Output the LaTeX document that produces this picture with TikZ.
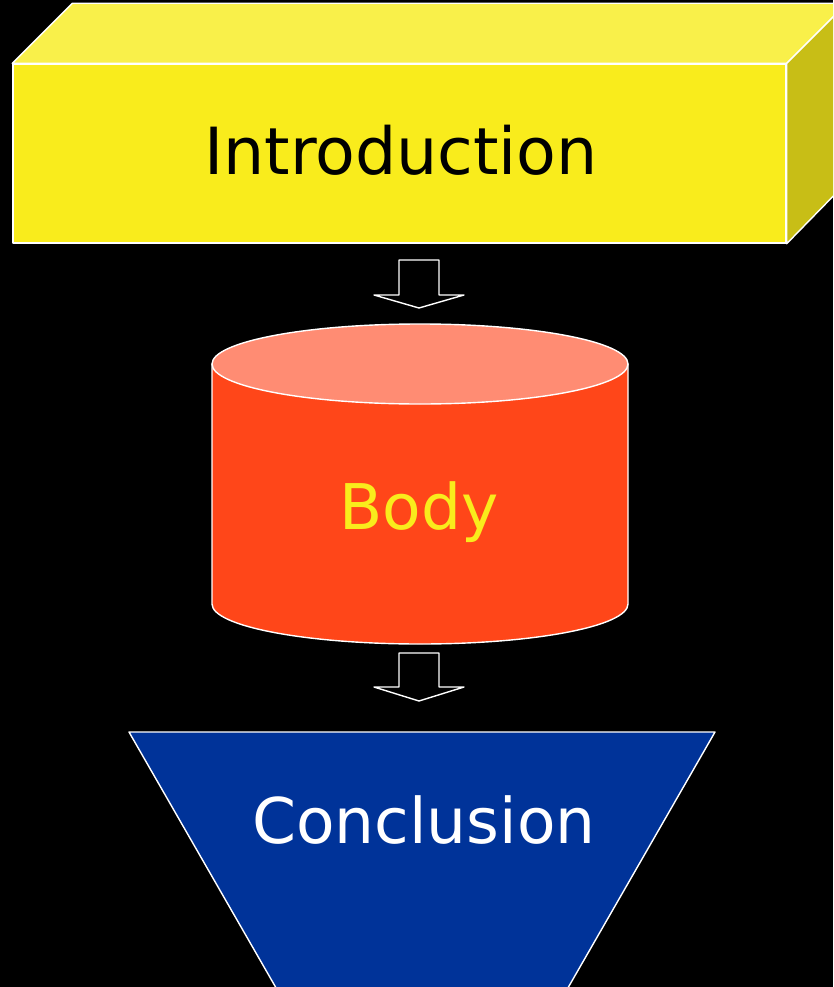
\documentclass[tikz,border=0pt]{standalone}
\usepackage{fontspec}
\setmainfont{DejaVu Sans}
\usetikzlibrary{positioning}

\definecolor{introfront}{RGB}{249,236,28}
\definecolor{introtop}{RGB}{249,240,74}
\definecolor{introside}{RGB}{200,190,22}
\definecolor{bodyside}{RGB}{255,70,25}
\definecolor{bodytop}{RGB}{255,140,115}
\definecolor{conclfill}{RGB}{0,51,153}

\tikzset{
	edge/.style={draw=white, line width=1.4pt, line join=round},
	label/.style={font=\fontsize{63}{75}\selectfont, anchor=base, inner sep=0},
	blockarrow/.style={edge, fill=black},
}

\begin{document}
\begin{tikzpicture}[x=1pt, y=-1pt]
		\clip (0,0) rectangle (833,987);
		\fill[black] (0,0) rectangle (833,987);

		% Introduction
		\begin{scope}
			\node (intro) at (399.5,153.5) [edge, fill=introfront, rectangle, minimum width=773pt, minimum height=179pt, inner sep=0] {};
			\filldraw[edge, fill=introtop] (intro.north west) -- ++(60,-60) -- ([shift={(60,-60)}]intro.north east) -- (intro.north east) -- cycle;
			\filldraw[edge, fill=introside] (intro.north east) -- ++(60,-60) -- ++(0,179) -- (intro.south east) -- cycle;
			\node (intro_title) at (401,175) [label, font=\fontsize{65}{78}\selectfont, text=black] {Introduction};
		\end{scope}

		% Body
		\begin{scope}
			\coordinate (cyl_top) at (420,364);
			\coordinate (cyl_bot) at (420,604);
			\filldraw[edge, fill=bodyside] ([xshift=-208pt]cyl_top) -- ([xshift=-208pt]cyl_bot) arc[start angle=180, end angle=360, x radius=208pt, y radius=40pt] -- ([xshift=208pt]cyl_top) -- cycle;
			\filldraw[edge, fill=bodytop] (cyl_top) ellipse[x radius=208pt, y radius=40pt];
			\node (body_title) at (419,529) [label, text=introfront] {Body};
		\end{scope}

		% Conclusion
		\begin{scope}
			\coordinate (concl_nw) at (129,732);
			\coordinate (concl_ne) at (715,732);
			\filldraw[edge, fill=conclfill] (concl_nw) -- (concl_ne) -- ++(-177,308) -- ([xshift=177pt, yshift=-308pt]concl_nw) -- cycle;
			\node (concl_title) at (424,843) [label, text=white] {Conclusion};
		\end{scope}

		% Arrows
		\begin{scope}
			\coordinate (arr_one) at (399,260);
			\coordinate (arr_two) at (399,653);
			\filldraw[blockarrow] (arr_one) -- ++(40,0) -- ++(0,35) -- ++(25,0) -- ++(-45,13) -- ++(-45,-13) -- ++(25,0) -- cycle;
			\filldraw[blockarrow] (arr_two) -- ++(40,0) -- ++(0,34) -- ++(25,0) -- ++(-45,14) -- ++(-45,-14) -- ++(25,0) -- cycle;
		\end{scope}

	\end{tikzpicture}
\end{document}
